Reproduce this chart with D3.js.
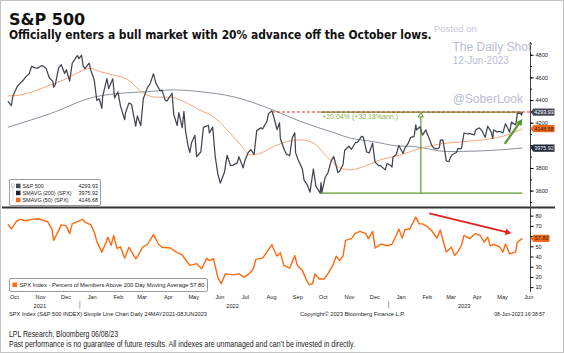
<!DOCTYPE html>
<html>
<head>
<meta charset="utf-8">
<script src="https://cdnjs.cloudflare.com/ajax/libs/d3/7.8.5/d3.min.js"></script>
<style>
  body { margin: 0; background: #fff; }
  svg { display: block; }
  .small { font-family: "Liberation Sans", Arial, sans-serif; fill: #222; }
</style>
</head>
<body>
<svg width="564" height="353"></svg>
<script>
var svg = d3.select("svg");
var width = 564;
var height = 353;
var parse = d3.timeParse("%Y-%m-%d");

// S&P 500 closes (sampled every few sessions)
var spx = [
  ["2021-10-08",4391],["2021-10-12",4350],["2021-10-14",4438],["2021-10-19",4520],["2021-10-22",4545],
  ["2021-10-26",4575],["2021-10-29",4605],["2021-11-02",4631],["2021-11-05",4697],["2021-11-09",4685],
  ["2021-11-12",4682],["2021-11-16",4701],["2021-11-18",4704],["2021-11-22",4682],["2021-11-26",4595],
  ["2021-11-30",4567],["2021-12-01",4513],["2021-12-03",4538],["2021-12-07",4686],["2021-12-10",4712],
  ["2021-12-14",4634],["2021-12-16",4668],["2021-12-20",4568],["2021-12-23",4725],["2021-12-29",4793],
  ["2021-12-31",4766],["2022-01-03",4796],["2022-01-05",4700],["2022-01-07",4677],["2022-01-12",4726],
  ["2022-01-14",4662],["2022-01-18",4577],["2022-01-21",4398],["2022-01-24",4410],["2022-01-27",4327],
  ["2022-01-28",4432],["2022-02-02",4589],["2022-02-04",4501],["2022-02-09",4588],["2022-02-11",4419],
  ["2022-02-15",4471],["2022-02-18",4349],["2022-02-23",4226],["2022-02-24",4288],["2022-02-28",4374],
  ["2022-03-03",4363],["2022-03-08",4170],["2022-03-10",4260],["2022-03-14",4173],["2022-03-17",4412],
  ["2022-03-22",4512],["2022-03-25",4543],["2022-03-29",4632],["2022-04-01",4546],["2022-04-06",4481],
  ["2022-04-08",4488],["2022-04-12",4397],["2022-04-14",4393],["2022-04-20",4460],["2022-04-22",4272],
  ["2022-04-26",4175],["2022-04-28",4288],["2022-05-02",4155],["2022-05-04",4300],["2022-05-06",4123],
  ["2022-05-09",3991],["2022-05-11",3935],["2022-05-13",4023],["2022-05-17",4088],["2022-05-19",3900],
  ["2022-05-24",3941],["2022-05-27",4158],["2022-06-02",4177],["2022-06-03",4109],["2022-06-07",4161],
  ["2022-06-10",3901],["2022-06-13",3750],["2022-06-16",3667],["2022-06-21",3765],["2022-06-24",3912],
  ["2022-06-28",3821],["2022-07-01",3825],["2022-07-06",3845],["2022-07-08",3899],["2022-07-13",3801],
  ["2022-07-15",3863],["2022-07-19",3937],["2022-07-22",3962],["2022-07-26",3921],["2022-07-29",4130],
  ["2022-08-03",4155],["2022-08-05",4145],["2022-08-10",4210],["2022-08-12",4280],["2022-08-16",4305],
  ["2022-08-19",4228],["2022-08-22",4138],["2022-08-25",4199],["2022-08-26",4058],["2022-08-31",3955],
  ["2022-09-02",3924],["2022-09-06",3908],["2022-09-09",4067],["2022-09-12",4110],["2022-09-13",3933],
  ["2022-09-16",3873],["2022-09-21",3790],["2022-09-23",3693],["2022-09-27",3648],["2022-09-30",3586],
  ["2022-10-04",3791],["2022-10-07",3640],["2022-10-12",3577],["2022-10-13",3670],["2022-10-14",3583],
  ["2022-10-18",3720],["2022-10-21",3752],["2022-10-25",3860],["2022-10-28",3901],["2022-11-02",3760],
  ["2022-11-04",3771],["2022-11-08",3828],["2022-11-10",3956],["2022-11-15",3992],["2022-11-18",3965],
  ["2022-11-23",4027],["2022-11-25",4026],["2022-11-30",4080],["2022-12-02",4072],["2022-12-06",3941],
  ["2022-12-09",3934],["2022-12-13",4019],["2022-12-15",3896],["2022-12-16",3852],["2022-12-20",3821],
  ["2022-12-22",3822],["2022-12-28",3783],["2022-12-30",3840],["2023-01-03",3824],["2023-01-05",3808],
  ["2023-01-06",3895],["2023-01-10",3919],["2023-01-13",3999],["2023-01-18",3928],["2023-01-20",3973],
  ["2023-01-24",4017],["2023-01-27",4071],["2023-01-31",4077],["2023-02-02",4180],["2023-02-03",4136],
  ["2023-02-07",4164],["2023-02-10",4090],["2023-02-14",4137],["2023-02-16",4090],["2023-02-17",4079],
  ["2023-02-21",3997],["2023-02-24",3970],["2023-02-28",3970],["2023-03-02",3982],["2023-03-03",4046],
  ["2023-03-06",4048],["2023-03-09",3918],["2023-03-10",3862],["2023-03-13",3855],["2023-03-15",3892],
  ["2023-03-17",3917],["2023-03-22",3937],["2023-03-24",3971],["2023-03-28",3971],["2023-03-31",4109],
  ["2023-04-04",4100],["2023-04-06",4105],["2023-04-12",4092],["2023-04-14",4138],["2023-04-18",4154],
  ["2023-04-21",4133],["2023-04-25",4071],["2023-04-28",4169],["2023-05-02",4119],["2023-05-04",4061],
  ["2023-05-05",4136],["2023-05-09",4119],["2023-05-12",4124],["2023-05-16",4110],["2023-05-19",4192],
  ["2023-05-24",4115],["2023-05-26",4205],["2023-05-31",4180],["2023-06-01",4221],["2023-06-02",4282],
  ["2023-06-06",4283],["2023-06-07",4267],["2023-06-08",4294]
];

// 200 day simple moving average
var sma200 = [
  ["2021-10-08",4160],["2021-11-27",4280],["2022-01-17",4425],["2022-02-18",4460],["2022-03-22",4474],
  ["2022-04-21",4490],["2022-05-23",4474],["2022-07-01",4430],["2022-08-17",4313],["2022-09-19",4210],
  ["2022-10-28",4112],["2022-11-17",4063],["2022-12-14",4033],["2023-01-11",3995],["2023-01-30",3990],
  ["2023-03-11",3945],["2023-04-19",3950],["2023-06-08",3976]
];

// 50 day simple moving average
var sma50 = [
  ["2021-10-08",4436],["2021-10-22",4444],["2021-11-27",4533],["2021-12-17",4592],["2022-01-01",4651],
  ["2022-01-13",4681],["2022-01-25",4651],["2022-02-09",4622],["2022-02-26",4584],["2022-03-17",4460],
  ["2022-04-02",4425],["2022-04-18",4425],["2022-05-08",4372],["2022-05-23",4310],["2022-06-08",4253],
  ["2022-06-24",4136],["2022-07-10",4004],["2022-07-21",3915],["2022-08-02",3930],["2022-08-18",3989],
  ["2022-09-03",4033],["2022-09-19",4048],["2022-10-04",4019],["2022-10-20",3900],["2022-11-05",3798],
  ["2022-11-17",3783],["2022-12-02",3812],["2022-12-22",3871],["2023-01-15",3915],["2023-02-08",3975],
  ["2023-03-03",4012],["2023-03-31",4033],["2023-04-28",4054],["2023-05-21",4092],["2023-06-08",4147]
];

// Percent of members above 200 day moving average
var pctAbove = [
  ["2021-10-08",71.5],["2021-10-12",67],["2021-10-18",74.4],["2021-10-22",76.4],["2021-10-29",75],
  ["2021-11-05",76.4],["2021-11-12",77],["2021-11-18",75.7],["2021-11-24",74],["2021-11-29",67],
  ["2021-12-01",55.8],["2021-12-07",65.6],["2021-12-10",71],["2021-12-16",70],["2021-12-20",62.4],
  ["2021-12-23",72],["2021-12-30",74.5],["2022-01-04",76.4],["2022-01-07",73.7],["2022-01-14",71],
  ["2022-01-18",64],["2022-01-21",54.8],["2022-01-27",44.3],["2022-02-01",54],["2022-02-03",59],
  ["2022-02-07",51],["2022-02-10",60.7],["2022-02-14",48],["2022-02-18",49.5],["2022-02-23",38.4],
  ["2022-02-28",49],["2022-03-03",45],["2022-03-08",37.8],["2022-03-11",41],["2022-03-16",49],
  ["2022-03-22",52],["2022-03-29",61.4],["2022-04-04",52],["2022-04-08",49],["2022-04-18",48.3],
  ["2022-04-25",44.3],["2022-05-02",41.6],["2022-05-05",37.8],["2022-05-11",31.3],["2022-05-19",33],
  ["2022-05-25",28],["2022-05-31",38.4],["2022-06-03",36],["2022-06-08",37.8],["2022-06-13",19.8],
  ["2022-06-17",13.3],["2022-06-22",23],["2022-07-01",22],["2022-07-08",23],["2022-07-14",19.8],
  ["2022-07-20",23],["2022-07-25",28],["2022-07-28",37.2],["2022-08-05",38.4],["2022-08-10",44.3],
  ["2022-08-16",51.7],["2022-08-17",49],["2022-08-22",40.4],["2022-08-26",43.6],["2022-08-30",31.3],
  ["2022-09-06",28.6],["2022-09-12",41],["2022-09-15",31.3],["2022-09-21",26.4],["2022-09-26",16.6],
  ["2022-09-29",12.4],["2022-10-03",13.3],["2022-10-06",23],["2022-10-11",18],["2022-10-17",18],
  ["2022-10-21",23],["2022-10-27",31.3],["2022-10-31",40.4],["2022-11-04",36],["2022-11-08",40.4],
  ["2022-11-11",55.8],["2022-11-18",57.5],["2022-11-22",62.4],["2022-11-28",64.6],["2022-12-05",62.4],
  ["2022-12-08",57.5],["2022-12-13",64.6],["2022-12-16",48.3],["2022-12-23",52.2],["2022-12-30",50.5],
  ["2023-01-05",52.2],["2023-01-09",59],["2023-01-13",67],["2023-01-17",58],["2023-01-20",66],
  ["2023-01-26",67.2],["2023-02-02",78.6],["2023-02-06",72],["2023-02-10",72],["2023-02-16",69],
  ["2023-02-21",65],["2023-02-27",58],["2023-03-03",66],["2023-03-07",53.5],["2023-03-10",44.3],
  ["2023-03-16",49],["2023-03-20",41],["2023-03-24",45],["2023-03-28",51],["2023-03-31",60.7],
  ["2023-04-07",57.5],["2023-04-13",62.4],["2023-04-19",60.7],["2023-04-24",54],["2023-04-28",59],
  ["2023-05-01",50.5],["2023-05-05",52],["2023-05-12",49.5],["2023-05-16",44.3],["2023-05-19",52.2],
  ["2023-05-24",42.6],["2023-05-31",44.3],["2023-06-02",54],["2023-06-08",57.8]
];

var spxLast = 4293.93;
var sma200Last = 3975.92;
var sma50Last = 4146.68;
var pctLast = 57.80;
var octLow = 3577.03;
var topTicks = [3600, 3800, 4000, 4200, 4400, 4600, 4800];
var botTicks = [10, 20, 30, 40, 50, 60, 70, 80];
var hiddenLabels = [4000, 60];      // covered by the value tags in the original
var legendNames = ["S&P 500", "SMAVG (200) (SPX)", "SMAVG (50) (SPX)"];
var legendValues = [spxLast, sma200Last, sma50Last];

// colours
var cSpx = "#41454e", c200 = "#8b929c", c50 = "#f7a577", cPct = "#ff6a0e";
var cGreen = "#5f9b2a";

// scales
var x = d3.scaleTime()
    .domain([parse("2021-10-01"), parse("2023-06-17")])
    .range([2, 530]);
var yTop = d3.scaleLinear().domain([3455, 4913]).range([207, 42]);
var yBot = d3.scaleLinear().domain([7.2, 87.5]).range([290, 208]);

// background + frame
svg.append("rect").attr("width", width).attr("height", height).attr("fill", "#fff");
svg.append("rect").attr("x", 0.5).attr("y", 0.5).attr("width", width - 1).attr("height", height - 1)
    .attr("fill", "none").attr("stroke", "#c4c4c4");

// titles
svg.append("text").attr("x", 9).attr("y", 24.5)
    .attr("font-family", "DejaVu Sans, Verdana, sans-serif").attr("font-weight", "bold")
    .attr("font-size", "16px").attr("fill", "#111").text("S&P 500");
var sub = svg.append("text").attr("x", 9).attr("y", 38.5)
    .attr("font-family", "'DejaVu Sans Condensed', 'DejaVu Sans', Verdana, sans-serif").attr("font-weight", "bold")
    .attr("font-size", "12px").attr("fill", "#111")
    .text("Officially enters a bull market with 20% advance off the October lows.");
// shrink the font until the line is as wide as in the original (about 423px)
var subLen = sub.node().getComputedTextLength();
if (subLen > 423) sub.attr("font-size", (12 * 423 / subLen).toFixed(2) + "px");

// ---- top panel lines ----
function toPts(arr) { return arr.map(d => ({ date: parse(d[0]), value: d[1] })); }

var lineTop = d3.line().x(d => x(d.date)).y(d => yTop(d.value));
var smoothTop = d3.line().x(d => x(d.date)).y(d => yTop(d.value)).curve(d3.curveMonotoneX);
var lineBot = d3.line().x(d => x(d.date)).y(d => yBot(d.value));

svg.append("path").datum(toPts(sma200)).attr("d", smoothTop)
    .attr("fill", "none").attr("stroke", c200).attr("stroke-width", 1);
svg.append("path").datum(toPts(sma50)).attr("d", smoothTop)
    .attr("fill", "none").attr("stroke", c50).attr("stroke-width", 1);

// annotation: advance off october low
var dLow = parse("2022-10-12"), dEnd = parse("2023-06-08"), dPeak = parse("2022-08-16"), dVert = parse("2023-02-08");
svg.append("line")
    .attr("x1", x(dLow)).attr("x2", x(dEnd)).attr("y1", yTop(octLow)).attr("y2", yTop(octLow))
    .attr("stroke", cGreen).attr("stroke-width", 1.3);
svg.append("line")
    .attr("x1", x(dLow)).attr("x2", x(dEnd)).attr("y1", yTop(spxLast)).attr("y2", yTop(spxLast))
    .attr("stroke", cGreen).attr("stroke-width", 1.3);
svg.append("line")
    .attr("x1", x(dVert)).attr("x2", x(dVert)).attr("y1", yTop(octLow)).attr("y2", yTop(spxLast) + 5)
    .attr("stroke", cGreen).attr("stroke-width", 1.2);
// hollow arrow head
var ax = x(dVert), ay = yTop(spxLast);
svg.append("path")
    .attr("d", `M${ax},${ay + 0.5} L${ax + 2.6},${ay + 5} L${ax - 2.6},${ay + 5} Z`)
    .attr("fill", "#fff").attr("stroke", cGreen).attr("stroke-width", 1);

svg.append("path").datum(toPts(spx)).attr("d", lineTop)
    .attr("fill", "none").attr("stroke", cSpx).attr("stroke-width", 1.25).attr("stroke-linejoin", "round");

// red dashed level line
svg.append("line")
    .attr("x1", x(dPeak)).attr("x2", 530).attr("y1", yTop(spxLast)).attr("y2", yTop(spxLast))
    .attr("stroke", "#e3262b").attr("stroke-width", 1.1).attr("stroke-dasharray", "3,2");

svg.append("text").attr("x", x(dLow) + 2).attr("y", yTop(spxLast) + 7.2)
    .attr("font-family", "Liberation Sans, Arial, sans-serif").attr("font-size", "7px")
    .attr("fill", "#7fb24a").text("+20.04% (+32.18%ann.)");

// arrows
function arrow(x1, y1, x2, y2, color, sw, hl, hw) {
    var dx = x2 - x1, dy = y2 - y1, len = Math.sqrt(dx * dx + dy * dy);
    var ux = dx / len, uy = dy / len;
    var bx = x2 - ux * hl, by = y2 - uy * hl;
    svg.append("line").attr("x1", x1).attr("y1", y1).attr("x2", bx + ux).attr("y2", by + uy)
        .attr("stroke", color).attr("stroke-width", sw);
    svg.append("path")
        .attr("d", `M${x2},${y2} L${bx - uy * hw},${by + ux * hw} L${bx + uy * hw},${by - ux * hw} Z`)
        .attr("fill", color);
}
arrow(x(parse("2023-05-18")), yTop(4012), x(parse("2023-06-08")), yTop(4233), "#5a9a2c", 2.2, 6.5, 3.6);

// ---- separator ----
svg.append("line").attr("x1", 2).attr("x2", 555).attr("y1", 207.6).attr("y2", 207.6)
    .attr("stroke", "#333").attr("stroke-width", 2);

// ---- bottom panel ----
svg.append("path").datum(toPts(pctAbove)).attr("d", lineBot)
    .attr("fill", "none").attr("stroke", cPct).attr("stroke-width", 1.4).attr("stroke-linejoin", "round");
arrow(x(parse("2023-02-18")), yBot(82.3), x(parse("2023-05-26")), yBot(62.7), "#e8231f", 1.8, 6, 3.2);

// ---- right axes ----
svg.append("line").attr("x1", 530.5).attr("x2", 530.5).attr("y1", 42).attr("y2", 292)
    .attr("stroke", "#444").attr("stroke-width", 1);

var tickFmt = d => hiddenLabels.includes(d) ? "" : d3.format("d")(d);
var minorTop = d3.range(3500, 4901, 100);
svg.append("g").attr("class", "small").attr("transform", "translate(530.5,0)")
    .call(d3.axisRight(yTop).tickValues(minorTop).tickSize(1.5).tickFormat(""))
    .call(g => g.select(".domain").remove());
svg.append("g").attr("class", "small").attr("transform", "translate(530.5,0)")
    .call(d3.axisRight(yTop).tickValues(topTicks).tickSize(3).tickPadding(2).tickFormat(tickFmt))
    .call(g => g.select(".domain").remove())
    .call(g => g.selectAll("text").attr("font-size", "5.6px").attr("fill", "#222"));
svg.append("g").attr("class", "small").attr("transform", "translate(530.5,0)")
    .call(d3.axisRight(yBot).tickValues(botTicks).tickSize(3).tickPadding(2).tickFormat(tickFmt))
    .call(g => g.select(".domain").remove())
    .call(g => g.selectAll("text").attr("font-size", "5.6px").attr("fill", "#222"));

// value tags on the axis
function valueBox(yPos, w, fill, textColor, label) {
    var g = svg.append("g").attr("transform", `translate(530.5,${yPos})`);
    g.append("path").attr("d", `M0,0 L3,-3.6 L${w},-3.6 L${w},3.6 L3,3.6 Z`).attr("fill", fill);
    g.append("text").attr("x", 3 + (w - 3) / 2).attr("y", 2)
        .attr("text-anchor", "middle").attr("font-size", "5.4px")
        .attr("font-family", "Liberation Sans, Arial, sans-serif")
        .attr("fill", textColor).text(label);
}
valueBox(yTop(spxLast), 24, "#474b54", "#fff", d3.format(".2f")(spxLast));
valueBox(yTop(sma50Last), 24, "#f26a1b", "#2a1a10", d3.format(".2f")(sma50Last));
valueBox(yTop(sma200Last), 24, "#1d2637", "#fff", d3.format(".2f")(sma200Last));
valueBox(yBot(pctLast), 19, "#f26a1b", "#2a1a10", d3.format(".2f")(pctLast));

// ---- legends ----
var leg = svg.append("g").attr("class", "small");
leg.append("rect").attr("x", 9.5).attr("y", 179.5).attr("width", 91).attr("height", 26)
    .attr("rx", 1.5).attr("fill", "#fff").attr("stroke", "#9a9a9a");
leg.append("rect").attr("x", 11.5).attr("y", 184).attr("width", 3).attr("height", 3)
    .attr("fill", "none").attr("stroke", "#999").attr("stroke-width", 0.5);
leg.append("line").attr("x1", 13).attr("x2", 13).attr("y1", 187).attr("y2", 201)
    .attr("stroke", "#aaa").attr("stroke-width", 0.5);
var legColors = [cSpx, "#1c2230", "#f26a1b"];
legendNames.forEach(function (name, i) {
    var cy = 186 + i * 7;
    leg.append("rect").attr("x", 16).attr("y", cy - 2.3).attr("width", 4.5).attr("height", 4.5)
        .attr("fill", legColors[i]);
    leg.append("text").attr("x", 22.5).attr("y", cy + 1.9).attr("font-size", "5.4px").text(name);
    leg.append("text").attr("x", 98).attr("y", cy + 1.9).attr("font-size", "5.4px")
        .attr("text-anchor", "end").text(d3.format(".2f")(legendValues[i]));
});

var leg2 = svg.append("g").attr("class", "small");
leg2.append("rect").attr("x", 9.5).attr("y", 278.5).attr("width", 198).attr("height", 13)
    .attr("rx", 1.5).attr("fill", "#fff").attr("stroke", "#9a9a9a");
leg2.append("rect").attr("x", 12.5).attr("y", 282.5).attr("width", 4.5).attr("height", 4.5).attr("fill", cPct);
leg2.append("text").attr("x", 19.5).attr("y", 287.2).attr("font-size", "5.8px")
    .attr("textLength", 185).attr("lengthAdjust", "spacingAndGlyphs")
    .text("SPX Index - Percent of Members Above 200 Day Moving Average " + d3.format(".2f")(pctLast));

// ---- x axis: months centred in each month, years below ----
var months = d3.timeMonth.range(parse("2021-10-01"), parse("2023-07-01"));
var monthMids = months.map(m => d3.timeDay.offset(m, 14));
svg.append("g").attr("class", "small").attr("transform", "translate(0,292)")
    .call(d3.axisBottom(x).tickValues(monthMids).tickSize(0).tickPadding(3.2).tickFormat(d3.timeFormat("%b")))
    .call(g => g.select(".domain").remove())
    .call(g => g.selectAll("text").attr("font-size", "5.6px").attr("fill", "#222"));

[2021, 2022, 2023].forEach(function (yr) {
    var mids = monthMids.filter(d => d.getFullYear() === yr).map(d => x(d));
    svg.append("text").attr("class", "small").attr("x", d3.mean(mids)).attr("y", 307.6)
        .attr("text-anchor", "middle").attr("font-size", "5.6px").text(yr);
});
[parse("2022-01-01"), parse("2023-01-01")].forEach(function (d) {
    svg.append("line").attr("x1", x(d)).attr("x2", x(d)).attr("y1", 301).attr("y2", 308.5)
        .attr("stroke", "#666").attr("stroke-width", 0.6);
});

// bloomberg footer
var foot = svg.append("g").attr("class", "small").attr("font-size", "5.2px");
foot.append("text").attr("x", 9).attr("y", 315.5)
    .attr("textLength", 198).attr("lengthAdjust", "spacingAndGlyphs")
    .text("SPX Index (S&P 500 INDEX) Simple Line Chart  Daily 24MAY2021-08JUN2023");
foot.append("text").attr("x", 300).attr("y", 315.5)
    .attr("textLength", 105).attr("lengthAdjust", "spacingAndGlyphs")
    .text("Copyright\u00a9 2023 Bloomberg Finance L.P.");
foot.append("text").attr("x", 545).attr("y", 315.5).attr("text-anchor", "end")
    .text("08-Jun-2023 16:38:57");

// source / disclaimer
svg.append("text").attr("x", 9).attr("y", 336.5)
    .attr("font-family", "Liberation Sans Narrow, Liberation Sans, Arial, sans-serif")
    .attr("font-size", "9px").attr("fill", "#222")
    .attr("textLength", 109).attr("lengthAdjust", "spacingAndGlyphs")
    .text("LPL Research, Bloomberg 06/08/23");
svg.append("text").attr("x", 9).attr("y", 346.5)
    .attr("font-family", "Liberation Sans Narrow, Liberation Sans, Arial, sans-serif")
    .attr("font-size", "9px").attr("fill", "#222")
    .attr("textLength", 346).attr("lengthAdjust", "spacingAndGlyphs")
    .text("Past performance is no guarantee of future results. All indexes are unmanaged and can\u2019t be invested in directly.");

// watermark
var wm = svg.append("g").attr("font-family", "Liberation Sans, Arial, sans-serif").attr("fill", "#b8bcd6");
wm.append("text").attr("x", 434).attr("y", 31.5).attr("font-size", "9.5px").attr("fill", "#c6c8da").text("Posted on");
wm.append("text").attr("x", 452.5).attr("y", 51).attr("font-size", "12px").text("The Daily Shot");
wm.append("text").attr("x", 452.7).attr("y", 64.3).attr("font-size", "10px").text("12-Jun-2023");
wm.append("text").attr("x", 452.7).attr("y", 103.3).attr("font-size", "12px").text("@SoberLook");
</script>
</body>
</html>
